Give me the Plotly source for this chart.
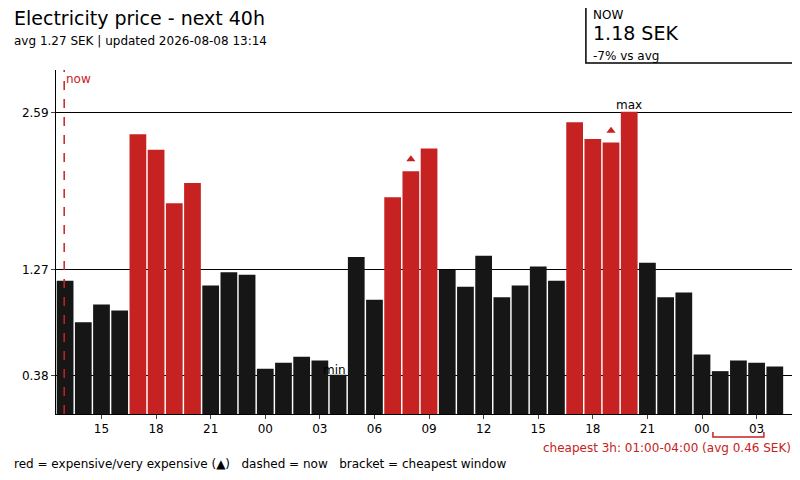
import plotly.graph_objects as go

hours = [13, 14, 15, 16, 17, 18, 19, 20, 21, 22, 23,
         0, 1, 2, 3, 4, 5, 6, 7, 8, 9, 10, 11, 12, 13, 14, 15, 16, 17, 18, 19, 20, 21, 22, 23,
         0, 1, 2, 3, 4]
prices = [1.18, 0.83, 0.98, 0.93, 2.41, 2.28, 1.83, 2.00, 1.14, 1.25, 1.23,
          0.44, 0.49, 0.54, 0.51, 0.39, 1.38, 1.02, 1.88, 2.10, 2.29, 1.27, 1.13, 1.39,
          1.04, 1.14, 1.30, 1.18, 2.51, 2.37, 2.34, 2.60, 1.33, 1.04, 1.08,
          0.56, 0.42, 0.51, 0.49, 0.46]
expensive = [0, 0, 0, 0, 1, 1, 1, 1, 0, 0, 0,
             0, 0, 0, 0, 0, 0, 0, 1, 1, 1, 0, 0, 0,
             0, 0, 0, 0, 1, 1, 1, 1, 0, 0, 0,
             0, 0, 0, 0, 0]
very_expensive = [19, 30]
y_ticks = [0.38, 1.27, 2.59]
avg_text = "1.27"
cheap_avg_text = "0.46"

RED = "#c62222"
BLACK = "#161616"

x = list(range(len(prices)))
colors = [RED if e else BLACK for e in expensive]
tickvals = [i for i, h in enumerate(hours) if h % 3 == 0]
ticktext = ["%02d" % hours[i] for i in tickvals]

fig = go.Figure()
fig.add_trace(go.Bar(x=x, y=prices, marker=dict(color=colors, line=dict(width=0)),
                     width=0.92, showlegend=False, hoverinfo="skip"))
fig.add_trace(go.Scatter(x=very_expensive, y=[prices[i] + 0.1 for i in very_expensive],
                         mode="markers", marker=dict(symbol="triangle-up", size=8, color=RED),
                         showlegend=False))

imax = prices.index(max(prices))
imin = prices.index(min(prices))
fig.add_annotation(x=imax, y=prices[imax], text="max", showarrow=False, yanchor="bottom",
                   font=dict(size=12, color="black"), yshift=-2)
fig.add_annotation(x=imin, y=prices[imin], text="min", showarrow=False, yanchor="bottom",
                   font=dict(size=12, color="black"), xshift=-4, yshift=-4)

# now line
fig.add_shape(type="line", x0=-0.05, x1=-0.05, y0=0, y1=1, yref="paper",
              line=dict(color=RED, width=1.5, dash="dash"))
fig.add_annotation(x=-0.05, y=1, yref="paper", text="now", showarrow=False,
                   xanchor="left", yanchor="top", font=dict(size=12, color=RED))

# cheapest bracket
c0, c1 = 36, 38
fig.add_shape(type="path", yref="paper",
              path=f"M {c0-0.4},-0.052 L {c0-0.4},-0.067 L {c1+0.4},-0.067 L {c1+0.4},-0.052",
              line=dict(color=RED, width=1.5))
fig.add_annotation(x=1, xref="paper", y=-0.099, yref="paper", yanchor="middle", xanchor="right",
                   text="cheapest 3h: 01:00-04:00 (avg %s SEK)" % cheap_avg_text, showarrow=False,
                   font=dict(size=12, color=RED))

# header
fig.add_annotation(x=-0.06, xref="paper", y=1.19, yref="paper", yanchor="top", xanchor="left",
                   text="Electricity price - next 40h", showarrow=False, font=dict(size=19, color="black"))
fig.add_annotation(x=-0.06, xref="paper", y=1.11, yref="paper", yanchor="top", xanchor="left",
                   text="avg %s SEK | updated 2026-08-08 13:14" % avg_text, showarrow=False,
                   font=dict(size=12, color="black"))
fig.add_annotation(x=-0.06, xref="paper", y=-0.145, yref="paper", yanchor="middle", xanchor="left",
                   text="red = expensive/very expensive (\u25b2)   dashed = now   bracket = cheapest window",
                   showarrow=False, font=dict(size=12, color="black"))

# NOW box
fig.add_shape(type="rect", xref="paper", yref="paper", x0=0.719, x1=1.007, y0=1.02, y1=1.189,
              line=dict(color="black", width=1.5), fillcolor="white")
fig.add_annotation(x=0.726, xref="paper", y=1.185, yref="paper", xanchor="left", yanchor="top",
                   text="NOW", showarrow=False, font=dict(size=12))
fig.add_annotation(x=0.726, xref="paper", y=1.145, yref="paper", xanchor="left", yanchor="top",
                   text="%.2f SEK" % prices[0], showarrow=False, font=dict(size=19))
fig.add_annotation(x=0.726, xref="paper", y=1.068, yref="paper", xanchor="left", yanchor="top",
                   text="-7% vs avg", showarrow=False, font=dict(size=12))

fig.update_layout(
    width=800, height=480,
    margin=dict(l=48, r=15, t=62, b=74),
    plot_bgcolor="white", paper_bgcolor="white",
    font=dict(family="DejaVu Sans", color="black", size=12),
)
fig.update_xaxes(range=[-0.5, 40.0], tickvals=tickvals, ticktext=ticktext, showgrid=False,
                 showline=True, linecolor="black", ticks="outside", ticklen=4, zeroline=False)
fig.update_yaxes(range=[0.06, 2.95], tickvals=y_ticks, ticktext=["%.2f" % v for v in y_ticks],
                 showgrid=True, gridcolor="black", gridwidth=1, showline=True, linecolor="black",
                 ticks="outside", ticklen=4, zeroline=False)

fig.write_html("out.html")
